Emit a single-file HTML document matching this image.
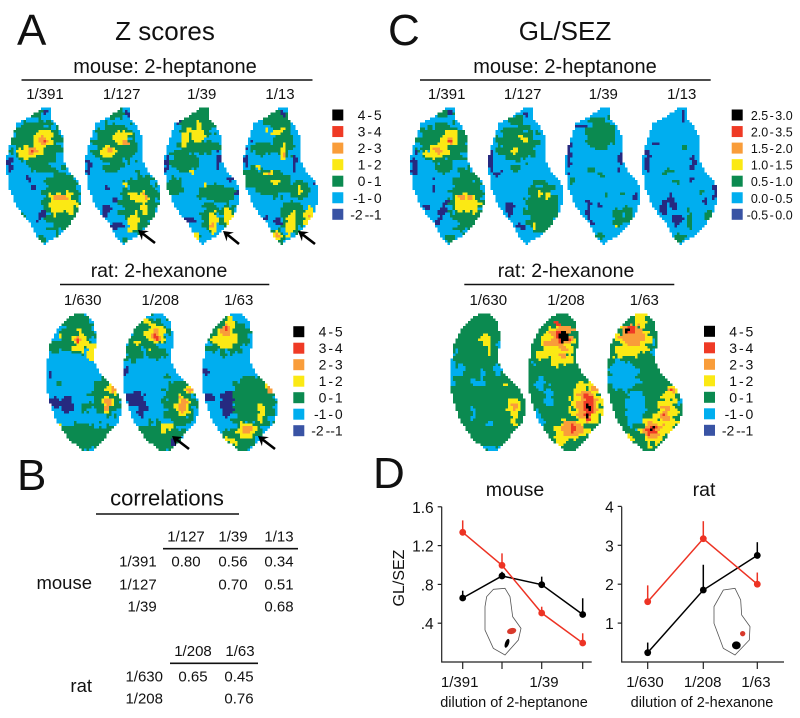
<!DOCTYPE html>
<html lang="en">
<head>
<meta charset="utf-8">
<title>Z scores and GL/SEZ activity maps</title>
<style>
html,body{margin:0;padding:0;background:#fff;}
svg{display:block;font-family:"Liberation Sans",sans-serif;fill:#111;}
.sub{font-size:20px;text-anchor:middle;}
.sub2{font-size:19.5px;text-anchor:middle;}
.lab{font-size:15px;text-anchor:middle;}
.r{font-size:15px;text-anchor:end;}
.big{font-size:44px;}
.ttl{font-size:26px;text-anchor:middle;}
.rule{stroke:#111;stroke-width:1.6;}
</style>
</head>
<body>
<svg id="fig" xmlns="http://www.w3.org/2000/svg" width="800" height="718" viewBox="0 0 800 718">
<rect width="800" height="718" fill="#fff"/>
<text class="big" x="17" y="45">A</text>
<text class="big" x="388" y="45">C</text>
<text class="big" x="17" y="490">B</text>
<text class="big" x="373" y="488">D</text>
<text class="ttl" x="165" y="40">Z scores</text>
<text class="ttl" x="565" y="40">GL/SEZ</text>

<text class="sub" x="165" y="73">mouse: 2-heptanone</text>
<line class="rule" x1="21.5" y1="80" x2="312.5" y2="80"/>
<text class="lab" x="45" y="99">1/391</text>
<text class="lab" x="121.7" y="99">1/127</text>
<text class="lab" x="201.7" y="99">1/39</text>
<text class="lab" x="280" y="99">1/13</text>

<text class="sub" x="565" y="73">mouse: 2-heptanone</text>
<line class="rule" x1="420" y1="80" x2="710.7" y2="80"/>
<text class="lab" x="446.7" y="99">1/391</text>
<text class="lab" x="522.7" y="99">1/127</text>
<text class="lab" x="603.3" y="99">1/39</text>
<text class="lab" x="681.7" y="99">1/13</text>

<text class="sub2" x="159" y="277">rat: 2-hexanone</text>
<line class="rule" x1="60" y1="284.5" x2="269.3" y2="284.5"/>
<text class="lab" x="82.7" y="305">1/630</text>
<text class="lab" x="160.3" y="305">1/208</text>
<text class="lab" x="238.7" y="305">1/63</text>

<text class="sub2" x="566" y="277">rat: 2-hexanone</text>
<line class="rule" x1="464.3" y1="284.5" x2="674.3" y2="284.5"/>
<text class="lab" x="488.3" y="305">1/630</text>
<text class="lab" x="566" y="305">1/208</text>
<text class="lab" x="644.3" y="305">1/63</text>

<g id="maps"></g>
<g id="legends"></g>
<g id="arrows" stroke="#000" fill="#000"></g>

<g>
<text x="167" y="505.7" font-size="22" text-anchor="middle">correlations</text>
<line class="rule" x1="96" y1="514" x2="239" y2="514"/>
<text class="lab" x="186" y="541.7">1/127</text>
<text class="lab" x="233" y="541.7">1/39</text>
<text class="lab" x="279" y="541.7">1/13</text>
<line class="rule" x1="163" y1="548.7" x2="298" y2="548.7"/>
<text x="92" y="589" font-size="18.5" text-anchor="end">mouse</text>
<text class="r" x="156.7" y="566.7">1/391</text>
<text class="r" x="156.7" y="589.3">1/127</text>
<text class="r" x="156.7" y="611.7">1/39</text>
<text class="lab" x="186" y="566.7">0.80</text>
<text class="lab" x="233" y="566.7">0.56</text>
<text class="lab" x="279" y="566.7">0.34</text>
<text class="lab" x="233" y="589.3">0.70</text>
<text class="lab" x="279" y="589.3">0.51</text>
<text class="lab" x="279" y="611.7">0.68</text>
<text class="lab" x="193" y="656">1/208</text>
<text class="lab" x="240" y="656">1/63</text>
<line class="rule" x1="170" y1="663.3" x2="258" y2="663.3"/>
<text x="92" y="692" font-size="18.5" text-anchor="end">rat</text>
<text class="r" x="163" y="681.7">1/630</text>
<text class="r" x="163" y="703.3">1/208</text>
<text class="lab" x="193" y="681.7">0.65</text>
<text class="lab" x="239" y="681.7">0.45</text>
<text class="lab" x="239" y="703.3">0.76</text>
</g>

<g id="chartD">
<text x="515" y="496" font-size="19.5" text-anchor="middle">mouse</text>
<text x="704" y="496" font-size="19.5" text-anchor="middle">rat</text>
<text transform="translate(404,578) rotate(-90)" font-size="16" text-anchor="middle">GL/SEZ</text>
<text x="514" y="707" font-size="14.5" text-anchor="middle">dilution of 2-heptanone</text>
<text x="702" y="707" font-size="14.5" text-anchor="middle">dilution of 2-hexanone</text>
</g>
</svg>

<script>
// ---- panel D chart data ----
const mouseCategories = [0, 1, 2, 3];
const mouseTickLabels = ['1/391', '', '1/39', ''];
const mouseYTicks = [0.4, 0.8, 1.2, 1.6];
const mouseYTickLabels = ['.4', '.8', '1.2', '1.6'];
const mouseRed = [1.337, 0.997, 0.505, 0.196];
const mouseRedTop = [1.46, 1.12, 0.57, 0.296];
const mouseBlack = [0.66, 0.887, 0.797, 0.49];
const mouseBlackTop = [0.735, 0.93, 0.88, 0.657];

const ratCategories = [0, 1, 2];
const ratTickLabels = ['1/630', '1/208', '1/63'];
const ratYTicks = [1, 2, 3, 4];
const ratYTickLabels = ['1', '2', '3', '4'];
const ratRed = [1.55, 3.17, 2.0];
const ratRedTop = [1.97, 3.62, 2.3];
const ratBlack = [0.24, 1.85, 2.74];
const ratBlackTop = [0.5, 2.5, 3.08];

// ---- legends ----
const zLabels = ['4 - 5', '3 - 4', '2 - 3', '1 - 2', '0 - 1', '-1 - 0', '-2 --1'];
const glLabels = ['2.5 - 3.0', '2.0 - 3.5', '1.5 - 2.0', '1.0 - 1.5', '0.5 - 1.0', '0.0 - 0.5', '-0.5 - 0.0'];
const legendColors = ['#000000', '#ef3a25', '#f99d3a', '#fbe914', '#0b8a50', '#00aeef', '#3953a4'];

// ---- map colours (level names) ----
const levelColors = {K:'#000000', R:'#ef3a25', O:'#f99d3a', Y:'#fbe914', G:'#0b8a50', B:'#00aeef', D:'#262a80'};

// outlines in zoomed reference units (3x)
const mouseOutline = [[130,82],[150,82],[150,110],[170,130],[190,170],[188,230],[205,270],[235,300],[247,350],[232,400],[205,440],[170,470],[135,492],[112,470],[90,430],[50,380],[25,320],[18,240],[30,190],[50,130],[90,110]];
const ratOutline = [[335,105],[375,100],[400,120],[412,170],[405,240],[420,280],[465,320],[487,360],[482,420],[440,470],[400,510],[370,510],[330,480],[290,420],[265,340],[262,260],[270,200],[300,140]];

// activity blobs: [level, x, y, rx, ry, rotationDeg]; coordinates in 3x reference crop units
const mapSpecs = [
 {name:'a-mouse-1-391',kind:'m',off:0,ox:0,oy:80,base:'B',blobs:[
  ['G',110,190,75,70],['G',125,265,35,12],['G',110,95,25,10],['G',185,360,55,95],['G',125,475,15,15],['G',60,415,15,15],
  ['Y',85,218,33,17],['Y',115,195,18,35],['Y',130,175,28,25],['Y',185,365,40,30],['Y',165,385,15,20],['Y',210,385,15,15],
  ['O',97,213,12,10],['O',130,178,14,14],['O',172,352,9,7],['O',197,352,9,7],['R',135,178,5,5],['R',97,215,4,4],
  ['D',30,255,8,25],['D',85,300,6,10],['D',100,320,5,10],['D',125,405,9,18,25],['D',135,95,5,10]]},
 {name:'a-mouse-1-127',kind:'m',off:79,ox:0,oy:80,base:'B',blobs:[
  ['G',345,195,65,65],['G',340,100,35,15],['G',335,265,30,12],['G',420,370,60,85],['G',375,480,10,10],
  ['Y',325,215,25,15],['Y',365,175,25,22,25],['Y',410,350,28,15],['Y',435,350,12,18],['Y',435,385,12,20],['Y',400,425,15,30,10],['Y',375,313,7,5],
  ['O',330,213,8,7],['O',372,185,12,6],['O',437,345,6,10],
  ['D',267,260,7,20],['D',380,100,5,12],['D',320,390,12,18],['D',350,440,20,10],['D',345,360,4,12],['D',320,320,5,6]]},
 {name:'a-mouse-1-39',kind:'m',off:158,ox:160,oy:80,base:'B',blobs:[
  ['G',110,130,50,50],['G',120,200,70,20],['G',75,240,45,35],['G',40,320,28,28],['G',170,340,60,25],['G',150,410,25,45],['G',205,410,25,40],['G',130,100,25,20],['G',110,470,12,20],
  ['Y',78,170,10,30,15],['Y',115,165,22,20],['Y',118,135,6,12],['Y',160,425,14,36],['Y',205,405,12,28],['Y',112,470,7,12],['Y',135,310,5,8],['Y',95,278,5,5],
  ['O',158,435,7,9],
  ['D',20,250,5,25],['D',175,240,7,22],['D',210,295,10,6],['D',90,420,14,6],['D',100,350,5,4],['D',55,125,10,4],['D',230,330,4,12]]},
 {name:'a-mouse-1-13',kind:'m',off:237,ox:160,oy:80,base:'B',blobs:[
  ['G',355,120,45,30],['G',310,205,40,18],['G',370,190,30,40],['G',280,290,35,30],['G',340,310,55,40],['G',420,330,30,30],['G',400,410,40,50],['G',355,470,20,25],
  ['Y',322,142,5,14],['Y',355,155,22,8,-15],['Y',370,222,8,26],['Y',295,265,6,10],['Y',325,280,12,6],['Y',348,306,10,8],['Y',420,328,7,14],['Y',392,430,13,38,15],['Y',445,405,14,28,15],['Y',352,470,12,20],
  ['O',370,230,4,8],['O',325,280,7,4],['O',350,470,6,10],['O',445,410,4,5],
  ['D',258,240,6,30],['D',368,108,5,12],['D',405,245,6,20],['D',355,425,15,10],['D',320,410,6,10],['D',465,310,6,6],['D',280,185,8,4]]},
 {name:'c-mouse-1-391',kind:'m',off:404,ox:400,oy:80,base:'B',blobs:[
  ['G',130,190,75,60],['G',130,265,25,12],['G',130,100,30,10],['G',200,360,50,95],['G',150,475,12,12],
  ['Y',105,218,35,15],['Y',150,175,26,22],['Y',125,205,20,20],['Y',200,365,37,28],['Y',175,385,12,15],['Y',225,385,12,12],
  ['O',113,212,11,10],['O',150,180,11,9],['O',185,352,8,7],['O',210,352,8,7],['R',150,182,3,3],
  ['D',45,255,9,30],['D',100,320,4,20],['D',125,400,9,40,25],['D',150,100,7,10],['D',80,385,10,10]]},
 {name:'c-mouse-1-127',kind:'m',off:482,ox:400,oy:80,base:'B',blobs:[
  ['G',350,190,60,55],['G',350,265,15,12],['G',425,385,50,80],['G',400,330,15,25],['G',350,120,25,15],
  ['Y',375,182,16,8,20],['Y',343,212,10,11],['Y',418,345,6,9],['Y',443,345,7,14],['Y',403,437,6,8],['Y',355,170,4,4],
  ['D',272,240,7,35],['D',330,385,12,20],['D',360,440,18,8],['D',380,100,5,10],['D',295,280,15,6]]},
 {name:'c-mouse-1-39',kind:'m',off:559,ox:400,oy:80,base:'B',blobs:[
  ['G',600,160,45,50],['G',655,410,17,30],['G',685,400,14,25],['G',605,285,8,10],['G',575,270,10,10],['G',515,300,12,8],['G',620,340,8,6],['G',595,470,12,10],['G',665,345,10,5],
  ['Y',645,438,6,6],
  ['D',508,220,7,45],['D',660,240,6,30],['D',565,390,7,25],['D',600,375,5,5],['D',575,430,12,6],['D',545,140,12,4],['D',705,345,5,15]]},
 {name:'c-mouse-1-13',kind:'m',off:636,ox:400,oy:80,base:'B',blobs:[
  ['G',850,205,7,8],['G',800,275,15,8],['G',830,305,10,5],['G',868,420,10,25],['G',925,405,12,20],['G',840,475,15,15],['G',905,335,8,5],
  ['D',742,245,9,35],['D',815,365,13,25,-20],['D',790,385,12,20],['D',830,420,18,18],['D',880,250,9,20],['D',850,110,6,14],['D',770,190,10,5],['D',945,335,6,25],['D',915,360,5,12],['D',875,300,8,6]]},
 {name:'a-rat-1-630',kind:'r',off:-41,ox:0,oy:270,base:'B',blobs:[
  ['G',230,190,50,60],['G',220,145,40,18],['G',170,230,25,15],['G',320,380,45,60],['G',340,350,25,25],['G',250,500,110,40],['G',180,340,12,6],['G',255,415,15,12],
  ['Y',240,215,22,30],['Y',272,250,14,25],['Y',280,225,8,10],['Y',180,200,5,8],['Y',340,355,22,18],['Y',322,400,17,25],['Y',180,465,5,5],['Y',340,487,5,7],
  ['O',233,208,7,12],['O',322,400,10,18],['O',345,355,10,10],['R',233,210,3,8],
  ['D',150,315,6,10],['D',165,395,15,22,-30],['D',200,405,18,25]]},
 {name:'a-rat-1-208',kind:'r',off:36,ox:0,oy:270,base:'B',blobs:[
  ['G',450,190,55,50],['G',400,240,30,35],['G',470,250,30,15],['G',540,400,50,70],['G',570,345,20,25],['G',480,500,80,45],['G',500,320,15,5],
  ['Y',465,190,32,28],['Y',440,150,10,10],['Y',410,220,6,8],['Y',445,240,4,6],['Y',545,410,20,35],['Y',570,355,15,15],['Y',490,475,10,15],['Y',510,470,10,15],
  ['O',467,195,12,17],['O',548,405,12,20],['O',570,357,7,8],['R',467,200,4,8],
  ['D',405,390,32,25],['D',425,410,15,30],['D',378,303,8,12],['D',520,515,10,12]]},
 {name:'a-rat-1-63',kind:'r',off:115,ox:0,oy:270,base:'B',blobs:[
  ['G',680,200,70,50],['G',660,170,50,40],['G',760,395,70,80],['G',805,350,25,35],['G',700,510,70,30],['G',745,480,45,30],['G',610,240,8,20],
  ['Y',675,205,35,30],['Y',690,165,15,25],['Y',740,480,28,25],['Y',783,425,10,28],['Y',807,358,11,15],['Y',690,510,25,6,35],
  ['O',675,180,15,15],['O',740,480,15,13],['O',808,358,6,9],['R',677,178,4,6],
  ['D',682,400,20,40],['D',625,380,18,12,45],['D',615,305,10,12]]},
 {name:'c-rat-1-630',kind:'r',off:363,ox:440,oy:280,base:'G',blobs:[
  ['B',40,280,8,40],['B',60,270,12,15],['B',110,310,25,10],['B',125,290,7,25],['B',170,270,15,15],['B',100,400,8,15],['B',150,430,10,10],['B',35,420,5,15],['B',50,210,6,8],['B',175,195,4,15],['B',140,505,50,6],['B',35,240,6,20],
  ['Y',135,180,17,22],['Y',148,212,4,12],['Y',222,380,20,22],['Y',222,412,8,22],['Y',195,315,5,5],['Y',70,172,3,4],
  ['O',225,378,10,10]]},
 {name:'c-rat-1-208',kind:'r',off:441,ox:440,oy:280,base:'G',blobs:[
  ['B',300,310,15,20],['B',325,350,12,30],['B',295,420,15,25,-20],['B',280,250,6,6],
  ['Y',355,190,50,55],['Y',310,225,22,15],['Y',350,245,18,15],['Y',380,240,22,14],['Y',440,375,48,60],['Y',420,320,12,20],['Y',395,450,50,30],['Y',365,470,20,25],
  ['O',365,170,35,35],['O',320,195,10,10],['O',370,225,12,8],['O',440,375,30,45],['O',395,445,30,22],['O',460,325,12,8],
  ['R',365,170,18,20],['R',445,380,15,35],['R',400,445,10,10],['R',350,130,8,6],
  ['K',370,170,12,20],['K',445,375,7,12],['K',443,408,5,8],['K',385,460,3,6],['K',405,440,3,4]]},
 {name:'c-rat-1-63',kind:'r',off:520,ox:520,oy:280,base:'G',blobs:[
  ['B',310,290,45,45],['B',345,385,30,55],['B',300,260,25,20],['B',400,205,5,25],['B',480,350,5,25],
  ['Y',340,180,50,45],['Y',300,220,20,15],['Y',360,120,20,25],['Y',400,450,35,45],['Y',440,400,30,60],['Y',455,335,18,18],['Y',335,475,15,5,35],
  ['O',340,165,35,30],['O',395,450,25,25],['O',435,405,12,25],['O',455,330,10,8],
  ['R',330,150,15,12],['R',395,450,15,12],['R',455,328,5,4],['R',435,405,3,4],
  ['K',325,150,8,6],['K',393,448,8,6]]}
];

const NS = 'http://www.w3.org/2000/svg';
function mk(tag, parent, attrs) {
  const el = document.createElementNS(NS, tag);
  for (const k in attrs) el.setAttribute(k, attrs[k]);
  parent.appendChild(el);
  return el;
}
function inside(px, py, poly) {
  let c = false;
  for (let i = 0, j = poly.length - 1; i < poly.length; j = i++) {
    const xi = poly[i][0], yi = poly[i][1], xj = poly[j][0], yj = poly[j][1];
    if ((yi > py) !== (yj > py) && px < (xj - xi) * (py - yi) / (yj - yi) + xi) c = !c;
  }
  return c;
}
function texture(x, y) {
  return Math.sin(x * 1.13 + y * 0.71) * Math.cos(y * 1.37 - x * 0.53) + 0.5 * Math.sin(x * 2.3 - y * 1.9);
}
function waviness(x, y) {
  return Math.sin(x * 0.45 + y * 0.27) * Math.cos(y * 0.38 - x * 0.31) + 0.6 * Math.sin(x * 0.23 - y * 0.52);
}
const CELL = 2.5;
const mapsRoot = document.getElementById('maps');
mapSpecs.forEach(function (spec) {
  const poly = (spec.kind === 'm' ? mouseOutline : ratOutline).map(function (p) {
    return [p[0] / 3, spec.kind === 'm' ? p[1] / 3 + 80 : p[1] / 3 + 280];
  });
  const xs = poly.map(function (p) { return p[0]; });
  const ys = poly.map(function (p) { return p[1]; });
  const x0 = Math.min.apply(null, xs), x1 = Math.max.apply(null, xs);
  const y0 = Math.min.apply(null, ys), y1 = Math.max.apply(null, ys);
  const blobs = spec.blobs.map(function (b) {
    const a = (b[5] || 0) * Math.PI / 180;
    return {lv: b[0], x: b[1] / 3 + spec.ox, y: b[2] / 3 + spec.oy, rx: b[3] / 3, ry: b[4] / 3, c: Math.cos(a), s: Math.sin(a)};
  });
  const paths = {};
  for (let ly = y0; ly <= y1; ly += CELL) {
    let runLv = null, runX = 0;
    const flush = function (endX) {
      if (runLv) {
        paths[runLv] = (paths[runLv] || '') + 'M' + (runX + spec.off).toFixed(1) + ' ' + ly.toFixed(1) + 'H' + (endX + spec.off).toFixed(1) + 'V' + (ly + CELL).toFixed(1) + 'H' + (runX + spec.off).toFixed(1) + 'Z';
      }
    };
    for (let lx = x0; lx <= x1 + CELL; lx += CELL) {
      let lv = null;
      if (inside(lx + CELL / 2, ly + CELL / 2, poly)) {
        lv = spec.base;
        const rxp = lx + spec.off + CELL / 2, ryp = ly + CELL / 2;
        const n = texture(rxp, ryp), w = waviness(rxp, ryp);
        blobs.forEach(function (b) {
          const dx = rxp - b.x, dy = ryp - b.y;
          const u = (dx * b.c + dy * b.s) / b.rx, v = (-dx * b.s + dy * b.c) / b.ry;
          const r = Math.sqrt(u * u + v * v);
          const m = Math.min(b.rx, b.ry);
          if ((r - 1) * m + 0.9 * n + 0.2 * m * w < 0) lv = b.lv;
        });
      }
      if (lv !== runLv) { flush(lx); runLv = lv; runX = lx; }
    }
    flush(x1 + CELL);
  }
  const g = mk('g', mapsRoot, {'shape-rendering': 'crispEdges'});
  
  
  ['B', 'G', 'D', 'Y', 'O', 'R', 'K'].forEach(function (lv) {
    if (!paths[lv]) return;
    const p = mk('path', g, {d: paths[lv], fill: levelColors[lv]});
    
    
  });
});

// legends
const legendRoot = document.getElementById('legends');
function legend(labels, sqX, y0, step, textRight, size) {
  labels.forEach(function (lab, i) {
    const y = y0 + i * step;
    const s = mk('rect', legendRoot, {x: sqX, y: y - 5.5, width: 11, height: 11, fill: legendColors[i]});
    
    
    const t = mk('text', legendRoot, {x: textRight, y: y + 5, 'font-size': size, 'text-anchor': 'end', 'word-spacing': '-2px'});
    
    
    t.textContent = lab;
  });
}
legend(zLabels, 332.3, 115, 16.55, 381.7, 14);
legend(glLabels, 731.7, 115, 16.55, 792.7, 12.5);
legend(zLabels, 293.3, 331.7, 16.5, 342.7, 14);
legend(zLabels, 704, 331.3, 16.5, 753.3, 14);

// arrows [tipX, tipY, tailX, tailY]
const arrowList = [[138,230,155,243],[223,231,239,244],[298,231,315,244],[172,436,189,449],[258,436,275,449]];
const arrowRoot = document.getElementById('arrows');
arrowList.forEach(function (a) {
  const ang = Math.atan2(a[3] - a[1], a[2] - a[0]);
  const L = 11, W = 0.55;
  const g = mk('g', arrowRoot, {});
  
  
  mk('line', g, {x1: a[0] + 3 * Math.cos(ang), y1: a[1] + 3 * Math.sin(ang), x2: a[2], y2: a[3], 'stroke-width': 2.6});
  const pts = [[a[0], a[1]],
    [a[0] + L * Math.cos(ang - W), a[1] + L * Math.sin(ang - W)],
    [a[0] + 6 * Math.cos(ang), a[1] + 6 * Math.sin(ang)],
    [a[0] + L * Math.cos(ang + W), a[1] + L * Math.sin(ang + W)]];
  mk('polygon', g, {points: pts.join(' '), stroke: 'none'});
});

// panel D charts
const chartRoot = document.getElementById('chartD');
const BASE_Y = 662;
const mouseX = function (i) { return [462.7, 502, 541.7, 582.7][i]; };
const mouseY = function (v) { return BASE_Y - v * 97; };
const ratX = function (i) { return [647.7, 703.3, 757.3][i]; };
const ratY = function (v) { return BASE_Y - v * 38.9; };
const labelShiftMouse = function (i) { return [-3, 0, 2.3, 0][i]; };
const labelShiftRat = function (i) { return [-2.7, -0.6, -1.3][i]; };

function drawAxes(name, xAxis0, xAxis1, cats, xf, yf, xLabels, yTicks, yLabels, yTop, shift) {
  const g = mk('g', chartRoot, {stroke: '#222', 'stroke-width': 1.2, fill: 'none'});
  
  
  mk('path', g, {d: 'M' + xAxis0 + ' ' + yTop + 'V' + BASE_Y + 'H' + xAxis1});
  yTicks.forEach(function (v, i) {
    mk('line', g, {x1: xAxis0 - 4, x2: xAxis0, y1: yf(v), y2: yf(v)});
    const t = mk('text', chartRoot, {x: xAxis0 - 8, y: yf(v) + 6, 'font-size': 15.5, 'text-anchor': 'end'});
    
    
    t.textContent = yLabels[i];
  });
  cats.forEach(function (c, i) {
    mk('line', g, {x1: xf(c), x2: xf(c), y1: BASE_Y, y2: BASE_Y + 7});
    if (xLabels[i]) {
      const t = mk('text', chartRoot, {x: xf(c) + shift(i), y: 687, 'font-size': 15, 'text-anchor': 'middle'});
      
      
      t.textContent = xLabels[i];
    }
  });
}
function drawSeries(name, color, cats, vals, tops, xf, yf) {
  const g = mk('g', chartRoot, {});
  
  
  mk('polyline', g, {points: cats.map(function (c, i) { return xf(c) + ',' + yf(vals[i]); }).join(' '), fill: 'none', stroke: color, 'stroke-width': 1.5});
  cats.forEach(function (c, i) {
    const e = mk('line', g, {x1: xf(c), x2: xf(c), y1: yf(vals[i]), y2: yf(tops[i]), stroke: color, 'stroke-width': 1.5});
    
    
    const p = mk('circle', g, {cx: xf(c), cy: yf(vals[i]), r: 3.4, fill: color});
    
    
  });
}
// inset outlines (3x crop units of panel D)
const insetMouse = [[370,388],[405,385],[420,410],[428,470],[453,505],[445,540],[405,585],[370,565],[345,510],[345,440],[350,410]];
const insetRat = [[1060,390],[1095,385],[1112,420],[1115,465],[1140,500],[1138,540],[1095,585],[1060,565],[1032,490],[1032,440]];
function inset(name, pts) {
  const p = mk('polygon', chartRoot, {points: pts.map(function (q) { return (q[0] / 3 + 370) + ',' + (q[1] / 3 + 460); }).join(' '), fill: '#fff', stroke: '#555', 'stroke-width': 0.8});
  
  
}
function spot(color, zx, zy, zrx, zry, rot) {
  const cx = zx / 3 + 370, cy = zy / 3 + 460;
  const e = mk('ellipse', chartRoot, {cx: cx, cy: cy, rx: zrx / 3, ry: zry / 3, fill: color, transform: 'rotate(' + rot + ' ' + cx + ' ' + cy + ')'});
  
  
}
inset('mouse-inset-outline', insetMouse);
inset('rat-inset-outline', insetRat);
spot('#d8392b', 425, 513, 14, 9, -15);
spot('#000', 411, 550, 6, 14, 20);
spot('#d8392b', 1118, 521, 8, 8, 0);
spot('#000', 1099, 556, 13, 12, 0);

drawAxes('mouse', 441.7, 591.7, mouseCategories, mouseX, mouseY, mouseTickLabels, mouseYTicks, mouseYTickLabels, 506.7, labelShiftMouse);
drawAxes('rat', 621.7, 784, ratCategories, ratX, ratY, ratTickLabels, ratYTicks, ratYTickLabels, 506.7, labelShiftRat);
drawSeries('mouse-black-series', '#000', mouseCategories, mouseBlack, mouseBlackTop, mouseX, mouseY);
drawSeries('mouse-red-series', '#ed3324', mouseCategories, mouseRed, mouseRedTop, mouseX, mouseY);
drawSeries('rat-black-series', '#000', ratCategories, ratBlack, ratBlackTop, ratX, ratY);
drawSeries('rat-red-series', '#ed3324', ratCategories, ratRed, ratRedTop, ratX, ratY);
</script>
</body>
</html>
